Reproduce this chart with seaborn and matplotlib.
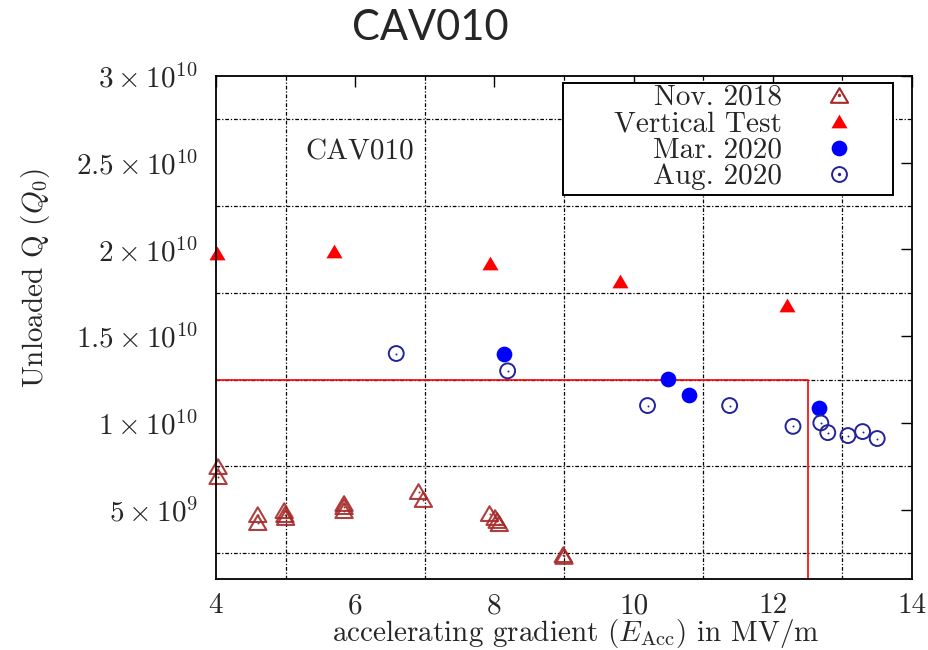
import matplotlib
matplotlib.use('Agg')
import matplotlib.pyplot as plt
import seaborn as sns
from matplotlib.lines import Line2D
from matplotlib.patches import Rectangle
from matplotlib.path import Path
from matplotlib.ticker import FixedLocator

# ---- data ----
nov2018_x = [4.03, 4.03, 4.60, 4.60, 4.98, 4.99, 5.00, 5.84, 5.84, 5.84,
             6.91, 6.98, 7.93, 8.01, 8.04, 8.07, 8.99, 9.00]
nov2018_y = [7.48e9, 6.90e9, 4.71e9, 4.25e9, 4.94e9, 4.71e9, 4.54e9, 5.35e9, 5.17e9, 4.94e9,
             6.04e9, 5.58e9, 4.77e9, 4.54e9, 4.37e9, 4.19e9, 2.40e9, 2.30e9]
vt_x = [4.01, 5.70, 7.93, 9.80, 12.20]
vt_y = [1.98e10, 1.99e10, 1.92e10, 1.82e10, 1.68e10]
mar2020_x = [8.14, 10.49, 10.79, 12.66]
mar2020_y = [1.40e10, 1.255e10, 1.163e10, 1.088e10]
aug2020_x = [6.59, 8.19, 10.20, 11.38, 12.29, 12.69, 12.79, 13.08, 13.29, 13.50]
aug2020_y = [1.40e10, 1.30e10, 1.10e10, 1.10e10, 0.98e10, 1.00e10, 0.944e10, 0.927e10, 0.95e10, 0.91e10]
spec_x = [4.0, 12.5, 12.5]
spec_y = [1.25e10, 1.25e10, 1.0e9]

legend_labels = ['Nov. 2018', 'Vertical Test', 'Mar. 2020', 'Aug. 2020']
xticks = [4, 6, 8, 10, 12, 14]
yticks = [5e9, 1e10, 1.5e10, 2e10, 2.5e10, 3e10]
ytick_labels = [r'$5\times10^{9}$', r'$1\times10^{10}$', r'$1.5\times10^{10}$',
                r'$2\times10^{10}$', r'$2.5\times10^{10}$', r'$3\times10^{10}$']

# ---- style ----
sns.set_style('white')
plt.rcParams['font.family'] = ['cmr10', 'DejaVu Serif']
plt.rcParams['mathtext.fontset'] = 'cm'
plt.rcParams['axes.formatter.use_mathtext'] = True
FS = 21

brown = '#a52a2a'
navy = '#23239a'
tri = Path([(-1, -0.85), (1, -0.85), (0, 0.85), (-1, -0.85)], closed=True)

fig = plt.figure(figsize=(9.29, 6.5), dpi=100)
ax = fig.add_axes([216/929, 1-579/650, (912-216)/929, (579-76)/650])

# spec line
sns.lineplot(x=spec_x, y=spec_y, sort=False, estimator=None, color='red', linewidth=1.2, ax=ax, zorder=2)

# series
sns.scatterplot(x=nov2018_x, y=nov2018_y, marker=tri, s=155, facecolor='none', edgecolor=brown,
                linewidth=1.5, ax=ax, zorder=3, clip_on=False, alpha=0.9)
sns.scatterplot(x=nov2018_x, y=nov2018_y, marker='o', s=2, color=brown, linewidth=0, ax=ax, zorder=3, clip_on=False)
sns.scatterplot(x=vt_x, y=vt_y, marker=tri, s=135, color='red', linewidth=0, ax=ax, zorder=3, clip_on=False)
sns.scatterplot(x=mar2020_x, y=mar2020_y, marker='o', s=128, color='blue', linewidth=0, ax=ax, zorder=3)
sns.scatterplot(x=aug2020_x, y=aug2020_y, marker='o', s=115, facecolor='none', edgecolor=navy,
                linewidth=1.4, ax=ax, zorder=3)
sns.scatterplot(x=aug2020_x, y=aug2020_y, marker='o', s=2, color=navy, linewidth=0, ax=ax, zorder=3)

ax.set_xlim(4, 14)
ax.set_ylim(1e9, 3e10)
ax.xaxis.set_major_locator(FixedLocator(xticks))
ax.set_xticklabels([str(t) for t in xticks])
ax.yaxis.set_major_locator(FixedLocator(yticks))
ax.set_yticklabels(ytick_labels)
ax.xaxis.set_minor_locator(FixedLocator([5, 7, 9, 11, 13]))
ax.yaxis.set_minor_locator(FixedLocator([2.5e9, 7.5e9, 1.25e10, 1.75e10, 2.25e10, 2.75e10]))
ax.tick_params(which='major', direction='in', length=8, width=1, top=True, right=True,
               labelsize=FS, color='black')
ax.tick_params(axis='x', which='major', pad=10)
ax.tick_params(axis='y', which='major', pad=13)
ax.tick_params(which='minor', length=0)
ax.grid(which='minor', color='black', linestyle=(0, (3, 1.5, 1, 1.5)), linewidth=0.9)
ax.grid(which='major', visible=False)
for sp in ax.spines.values():
    sp.set_linewidth(1.3)
    sp.set_color('black')
    sp.set_zorder(6)

ax.set_xlabel(r'accelerating gradient ($E_{\mathrm{Acc}}$) in MV/m', fontsize=FS)
ax.set_ylabel(r'Unloaded Q ($Q_0$)', fontsize=FS)
ax.xaxis.set_label_coords(0.517, -0.075)
ax.yaxis.set_label_coords(-0.236, 0.598)

ax.text(6.06, 2.56e10, 'CAV010', fontsize=FS, ha='center', va='center')

# legend
rect = Rectangle((0.4986, 0.7634), 0.4741, 0.2227, transform=ax.transAxes,
                 facecolor='white', edgecolor='black', linewidth=1.4, zorder=4)
ax.add_patch(rect)
h_nov = (Line2D([], [], marker=tri, ls='none', ms=12.4, mfc='none', mec=brown, mew=1.5),
         Line2D([], [], marker='o', ls='none', ms=1.4, mfc=brown, mec=brown))
h_vt = Line2D([], [], marker=tri, ls='none', ms=11.6, mfc='red', mec='red', mew=0)
h_mar = Line2D([], [], marker='o', ls='none', ms=11.3, mfc='blue', mec='blue', mew=0)
h_aug = (Line2D([], [], marker='o', ls='none', ms=10.7, mfc='none', mec=navy, mew=1.4),
         Line2D([], [], marker='o', ls='none', ms=1.4, mfc=navy, mec=navy))
leg = ax.legend([h_nov, h_vt, h_mar, h_aug], legend_labels, loc='upper right',
                bbox_to_anchor=(0.916, 0.983), frameon=False, markerfirst=False,
                fontsize=FS, handlelength=1.0, handletextpad=1.45, labelspacing=0.0,
                borderpad=0.0, borderaxespad=0.0)
leg.set_zorder(5)

fig.text(430/929, 1-28/650, 'CAV010', family='Lato', fontsize=30, ha='center', va='center')

fig.savefig('out.png', dpi=100)
